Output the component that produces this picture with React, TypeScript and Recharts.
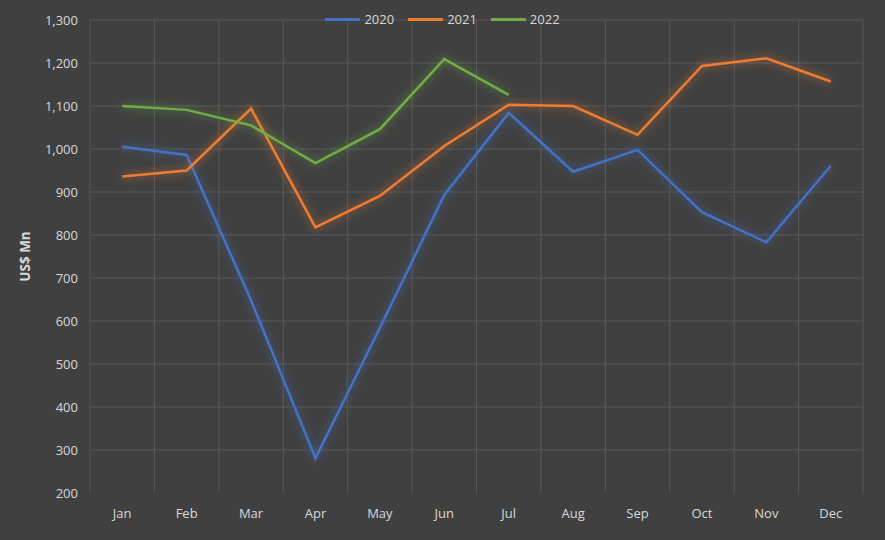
import React from 'react';
import { LineChart, Line, XAxis, YAxis, CartesianGrid, Legend } from 'recharts';

const months = ['Jan', 'Feb', 'Mar', 'Apr', 'May', 'Jun', 'Jul', 'Aug', 'Sep', 'Oct', 'Nov', 'Dec'];
const values2020 = [1005, 986, 648, 281, 584, 893, 1084, 947, 998, 853, 783, 961];
const values2021 = [936, 950, 1094, 818, 891, 1007, 1103, 1100, 1033, 1193, 1211, 1157];
const values2022: (number | null)[] = [1100, 1091, 1055, 967, 1046, 1209, 1126, null, null, null, null, null];
const yTicks = [200, 300, 400, 500, 600, 700, 800, 900, 1000, 1100, 1200, 1300];

const data = months.map((m, i) => ({
  month: m,
  y2020: values2020[i],
  y2021: values2021[i],
  y2022: values2022[i],
}));

const BG = '#404040';
const GRID = '#595959';
const TEXT = '#d9d9d9';
const FONT = '"Open Sans", "Noto Sans", sans-serif';
const PLOT_W = 885 - 90 - 22;
const HALF_BAND = PLOT_W / months.length / 2;

const fmt = (v: number) => v.toLocaleString('en-US');

const LegendContent = (props: any) => {
  const { payload } = props;
  return (
    <div style={{ display: 'flex', justifyContent: 'center', alignItems: 'center', height: 18, fontFamily: FONT, fontSize: 13, color: TEXT }}>
      {(payload || []).map((p: any) => (
        <div key={p.value} style={{ display: 'flex', alignItems: 'center', margin: '0 7px' }}>
          <div style={{ width: 35, height: 3, background: p.color, marginRight: 4 }} />
          <span>{p.value}</span>
        </div>
      ))}
    </div>
  );
};

export default function App() {
  return (
    <div style={{ position: 'absolute', left: 0, top: 0, width: 885, height: 540, background: BG }}>
      <svg width={0} height={0} style={{ position: 'absolute' }}>
        <defs>
          <filter id="glow" filterUnits="userSpaceOnUse" x={0} y={0} width={885} height={540}>
            <feGaussianBlur in="SourceGraphic" stdDeviation={5} result="b" />
            <feComponentTransfer in="b" result="b2">
              <feFuncA type="linear" slope={0.8} />
            </feComponentTransfer>
            <feMerge>
              <feMergeNode in="b2" />
              <feMergeNode in="SourceGraphic" />
            </feMerge>
          </filter>
        </defs>
      </svg>
      <style>{`.glowline path.recharts-line-curve { filter: url(#glow); }`}</style>
      <LineChart
        width={885}
        height={540}
        data={data}
        margin={{ top: 2, right: 22, bottom: 0, left: 0 }}
        style={{ fontFamily: FONT }}
      >
        <CartesianGrid
          stroke={GRID}
          strokeWidth={1}
          horizontalCoordinatesGenerator={(p: any) => {
            const { offset } = p;
            const n = yTicks.length - 1;
            return Array.from({ length: n }, (_, i) => offset.top + (i * offset.height) / n);
          }}
          verticalCoordinatesGenerator={(p: any) => {
            const { offset } = p;
            const n = months.length;
            return Array.from({ length: n + 1 }, (_, i) => offset.left + (i * offset.width) / n);
          }}
        />
        <XAxis
          dataKey="month"
          height={47}
          padding={{ left: HALF_BAND, right: HALF_BAND }}
          axisLine={false}
          tickLine={false}
          tickSize={0}
          tickMargin={16}
          tick={{ fill: TEXT, fontSize: 13, fontFamily: FONT }}
          interval={0}
        />
        <YAxis
          width={90}
          domain={[200, 1300]}
          ticks={yTicks}
          axisLine={false}
          tickLine={false}
          tickSize={0}
          tickMargin={12}
          tickFormatter={fmt}
          tick={{ fill: TEXT, fontSize: 13, fontFamily: FONT }}
          label={{
            value: 'US$ Mn',
            angle: -90,
            position: 'insideLeft',
            dx: 20,
            style: { fill: TEXT, fontSize: 13.5, fontWeight: 'bold', fontFamily: FONT, textAnchor: 'middle' },
          }}
        />
        <Legend
          verticalAlign="top"
          align="center"
          content={<LegendContent />}
          wrapperStyle={{ top: 10, left: 0, width: 885 }}
        />
        <Line className="glowline" type="linear" dataKey="y2020" name="2020" stroke="#4472C4" strokeWidth={2.5} dot={false} isAnimationActive={false} />
        <Line className="glowline" type="linear" dataKey="y2021" name="2021" stroke="#ED7D31" strokeWidth={2.5} dot={false} isAnimationActive={false} />
        <Line className="glowline" type="linear" dataKey="y2022" name="2022" stroke="#70AD47" strokeWidth={2.5} dot={false} isAnimationActive={false} />
      </LineChart>
    </div>
  );
}
